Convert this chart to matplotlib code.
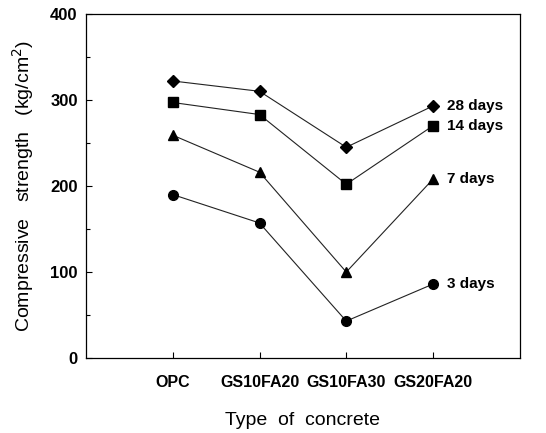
import matplotlib
matplotlib.use("Agg")
import matplotlib.pyplot as plt
from matplotlib.ticker import MultipleLocator

categories = ["OPC", "GS10FA20", "GS10FA30", "GS20FA20"]
days_3 = [190, 157, 43, 86]
days_7 = [259, 216, 100, 208]
days_14 = [297, 283, 202, 270]
days_28 = [322, 310, 245, 293]
series_labels = ["3 days", "7 days", "14 days", "28 days"]

plt.rcParams['font.family'] = ['Liberation Sans', 'DejaVu Sans']

fig = plt.figure(figsize=(5.46, 4.33), dpi=100)
ax = fig.add_axes([0.1575, 0.173, 0.7945, 0.795])

x = list(range(len(categories)))
series = [(days_3, 'o', 7), (days_7, '^', 7.5), (days_14, 's', 6.5), (days_28, 'D', 6.5)]
for (vals, m, ms), lab in zip(series, series_labels):
    ax.plot(x, vals, color='#222222', lw=0.8, marker=m, ms=ms,
            markerfacecolor='black', markeredgecolor='black')
    ax.text(x[-1] + 0.16, vals[-1], lab, ha='left', va='center',
            fontsize=11, fontweight='bold')

ax.set_xlim(-1, 4)
ax.set_ylim(0, 400)
ax.set_xticks(x)
ax.set_xticklabels(categories, fontsize=11.5, fontweight='bold')
ax.yaxis.set_major_locator(MultipleLocator(100))
ax.yaxis.set_minor_locator(MultipleLocator(50))
for lbl in ax.get_yticklabels():
    lbl.set_fontweight('bold')
    lbl.set_fontsize(12)
ax.tick_params(axis='both', which='both', direction='in')
ax.tick_params(axis='both', which='major', length=4, width=0.8)
ax.tick_params(axis='y', which='major', pad=6)
ax.tick_params(axis='y', which='minor', length=3, width=0.8)
ax.tick_params(axis='x', which='major', pad=12)

ax.set_xlabel("Type  of  concrete", fontsize=14, labelpad=16)
ax.set_ylabel("Compressive   strength   (kg/cm$^2$)", fontsize=14, labelpad=10)

for s in ax.spines.values():
    s.set_linewidth(0.9)

fig.savefig("out.png", dpi=100)
